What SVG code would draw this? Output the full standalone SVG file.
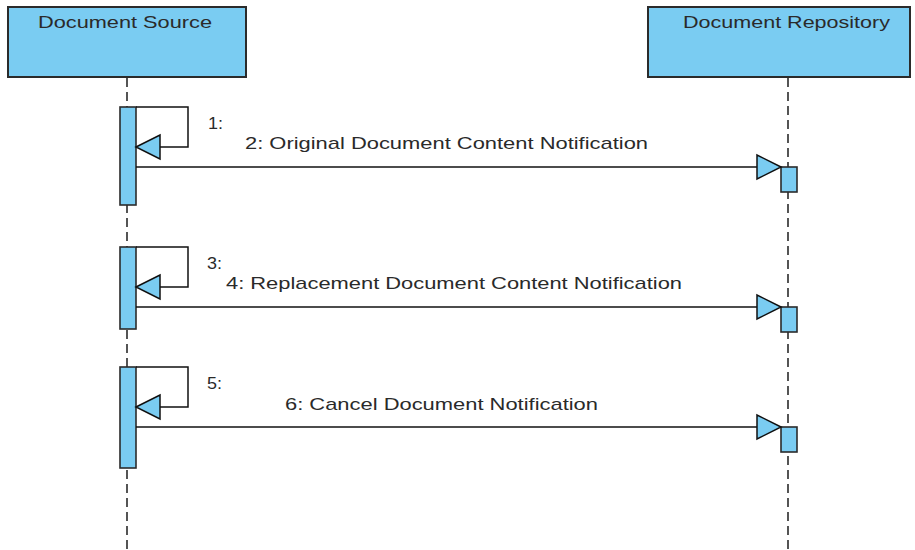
<svg xmlns="http://www.w3.org/2000/svg" width="915" height="550" viewBox="0 0 915 550">
<style>
.box{fill:#7ACCF2;stroke:#2b2b2b;stroke-width:2}
.act{fill:#7ACCF2;stroke:#2b2b2b;stroke-width:1.6}
.life{stroke:#2b2b2b;stroke-width:1.6;stroke-dasharray:9 5;fill:none}
.msg{stroke:#111;stroke-width:1.5;fill:none}
.head{fill:#7ACCF2;stroke:#111;stroke-width:1.5;stroke-linejoin:miter}
text{font-family:"Liberation Sans",Arial,sans-serif;font-size:17px;fill:#2a2a2a}
</style>
<rect width="915" height="550" fill="#ffffff"/>
<g id="lifelines">
  <line class="life" x1="127" y1="78" x2="127" y2="550"/>
  <line class="life" x1="788" y1="78" x2="788" y2="550"/>
</g>
<g id="document-source">
  <rect class="box" x="8" y="7" width="238" height="70"/>
  <text x="38" y="28" textLength="174" lengthAdjust="spacingAndGlyphs">Document Source</text>
</g>
<g id="document-repository">
  <rect class="box" x="648" y="7" width="262" height="70"/>
  <text x="683" y="28" textLength="207" lengthAdjust="spacingAndGlyphs">Document Repository</text>
</g>
<g id="activations">
  <rect class="act" x="120" y="107" width="16" height="98"/>
  <rect class="act" x="120" y="247" width="16" height="82"/>
  <rect class="act" x="120" y="367" width="16" height="101"/>
  <rect class="act" x="781" y="167" width="16" height="25"/>
  <rect class="act" x="781" y="307" width="16" height="25"/>
  <rect class="act" x="781" y="427" width="16" height="25"/>
</g>
<g id="connectors">
  <polyline class="msg" points="136,107 188,107 188,147 160,147"/>
  <polygon class="head" points="136,147 160,135 160,159"/>
  <line class="msg" x1="136" y1="167" x2="757" y2="167"/>
  <polygon class="head" points="781,167 757,155 757,179"/>

  <polyline class="msg" points="136,247 188,247 188,287 160,287"/>
  <polygon class="head" points="136,287 160,275 160,299"/>
  <line class="msg" x1="136" y1="307" x2="757" y2="307"/>
  <polygon class="head" points="781,307 757,295 757,319"/>

  <polyline class="msg" points="136,367 188,367 188,407 160,407"/>
  <polygon class="head" points="136,407 160,395 160,419"/>
  <line class="msg" x1="136" y1="427" x2="757" y2="427"/>
  <polygon class="head" points="781,427 757,415 757,439"/>
</g>
<g id="labels">
  <text x="208" y="129" textLength="15" lengthAdjust="spacingAndGlyphs">1:</text>
  <text x="245" y="149" textLength="403" lengthAdjust="spacingAndGlyphs">2: Original Document Content Notification</text>
  <text x="207" y="269" textLength="15" lengthAdjust="spacingAndGlyphs">3:</text>
  <text x="226" y="289" textLength="456" lengthAdjust="spacingAndGlyphs">4: Replacement Document Content Notification</text>
  <text x="207" y="389" textLength="15" lengthAdjust="spacingAndGlyphs">5:</text>
  <text x="285" y="410" textLength="313" lengthAdjust="spacingAndGlyphs">6: Cancel Document Notification</text>
</g>
</svg>
